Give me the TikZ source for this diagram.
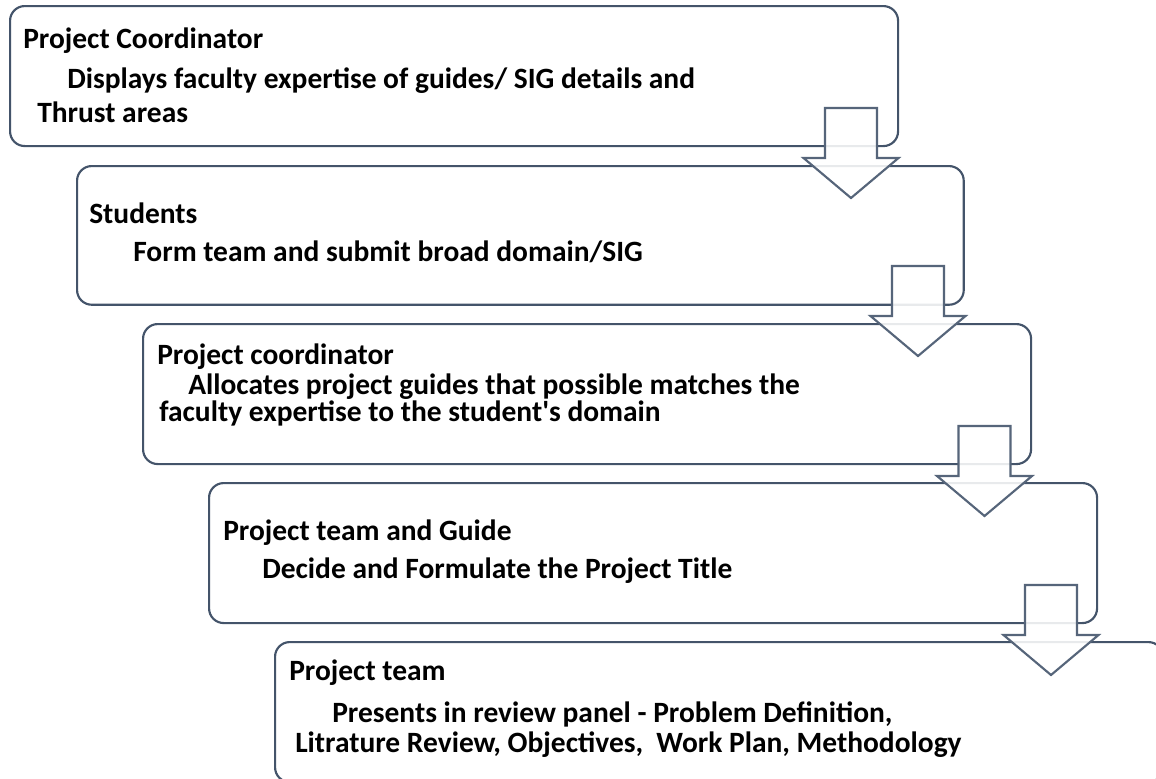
\documentclass[tikz,border=0pt]{standalone}
\usepackage{fontspec}
\setmainfont{Carlito}
\definecolor{boxcol}{HTML}{44546A}
\definecolor{arrcol}{HTML}{56657A}
\begin{document}
\begin{tikzpicture}[x=0.75pt,y=-0.75pt,
  boxst/.style={draw=boxcol, line width=1.6pt, rounded corners=11pt, fill=white, anchor=north west, inner sep=0pt},
  arrst/.style={draw=arrcol, line width=1.6pt, fill=white, fill opacity=0.88, line join=miter},
  txt/.style={anchor=base west, inner sep=0pt, font=\bfseries\fontsize{22.1}{26}\selectfont, text=black}]
\useasboundingbox (0,0) rectangle (1156,778);
\clip (0,0) rectangle (1156,778);
% boxes
\node[boxst, minimum width=666pt, minimum height=105pt] (b1) at (9,5) {};
\node[boxst, minimum width=665pt, minimum height=104pt] (b2) at (76,165) {};
\node[boxst, minimum width=666pt, minimum height=105pt] (b3) at (142,323) {};
\node[boxst, minimum width=666pt, minimum height=105pt] (b4) at (208,482) {};
\node[boxst, minimum width=666pt, minimum height=105pt] (b5) at (274,641) {};
% block arrows
\foreach \cx/\yt in {851/108, 918/266, 984.5/426, 1051/585}{
  \draw[arrst] (\cx-26,\yt) -- (\cx+26,\yt) -- (\cx+26,\yt+50) -- (\cx+47.5,\yt+50)
     -- (\cx,\yt+90) -- (\cx-47.5,\yt+50) -- (\cx-26,\yt+50) -- cycle;
}
% texts
\node[txt] (t1a) at (23,48) {Project Coordinator};
\node[txt] (t1b) at (67,88) {Displays faculty expertise of guides/ SIG details and};
\node[txt] (t1c) at (37,122) {Thrust areas};
\node[txt] (t2a) at (89,223) {Students};
\node[txt] (t2b) at (133,261) {Form team and submit broad domain/SIG};
\node[txt] (t3a) at (157,364) {Project coordinator};
\node[txt] (t3b) at (188,394) {Allocates project guides that possible matches the};
\node[txt] (t3c) at (159,421) {faculty expertise to the student\textquotesingle s domain};
\node[txt] (t4a) at (223,540) {Project team and Guide};
\node[txt] (t4b) at (262,578) {Decide and Formulate the Project Title};
\node[txt] (t5a) at (289,680) {Project team};
\node[txt] (t5b) at (332,722) {Presents in review panel - Problem Definition,};
\node[txt] (t5c) at (295,752) {Litrature Review, Objectives,\hspace{0.45em}Work Plan, Methodology};
\end{tikzpicture}
\end{document}
